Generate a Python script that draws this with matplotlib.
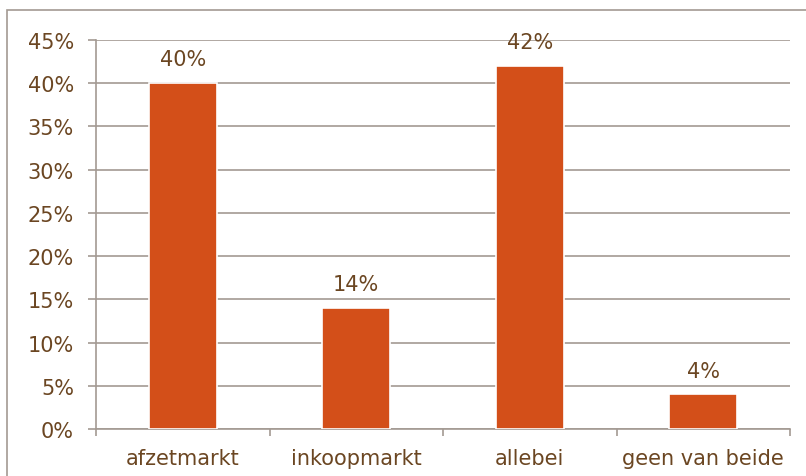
import matplotlib
matplotlib.use('Agg')
import matplotlib.pyplot as plt
from matplotlib.patches import Rectangle

categories = ['afzetmarkt', 'inkoopmarkt', 'allebei', 'geen van beide']
values = [40, 14, 42, 4]
yticks = [0, 5, 10, 15, 20, 25, 30, 35, 40, 45]

barcol = '#D34F19'
textcol = '#6B4622'
gridcol = '#A39A92'
fs = 15

W, H = 806, 477
fig = plt.figure(figsize=(W/100, H/100), dpi=100)
fig.patches.append(Rectangle((7/W, -0.1), 1.2, 1 - 11/H + 0.1, transform=fig.transFigure,
                             fill=False, edgecolor=gridcol, linewidth=1.2))

ax = fig.add_axes([96/W, 1 - 430/H, (790-96)/W, (430-41)/H])
x = list(range(len(categories)))
ax.bar(x, values, width=0.39, color=barcol, edgecolor='white', linewidth=1.2, zorder=3)
for xi, v in zip(x, values):
    ax.text(xi, v + 1.6, '%d%%' % v, ha='center', va='bottom', fontsize=fs, color=textcol, zorder=4)

ax.set_xlim(-0.5, len(categories) - 0.5)
ax.set_ylim(0, 45)
ax.set_yticks(yticks)
ax.set_yticklabels(['%d%%' % t for t in yticks])
ax.yaxis.grid(True, color=gridcol, linewidth=1.2, zorder=0)
ax.set_xticks([i - 0.5 for i in range(len(categories) + 1)])
ax.set_xticklabels([])
ax.set_xticks(x, minor=True)
ax.set_xticklabels(categories, minor=True)
ax.tick_params(axis='x', which='minor', length=0, pad=14, labelsize=fs, labelcolor=textcol)
ax.tick_params(axis='x', which='major', length=5, width=1.2, color=gridcol, direction='out')
ax.tick_params(axis='y', length=5.8, width=1.2, color=gridcol, labelsize=fs, labelcolor=textcol, pad=10)
for s in ['top', 'right']:
    ax.spines[s].set_visible(False)
for s in ['left', 'bottom']:
    ax.spines[s].set_color(gridcol)
    ax.spines[s].set_linewidth(1.2)

fig.savefig('out.png', dpi=100)
